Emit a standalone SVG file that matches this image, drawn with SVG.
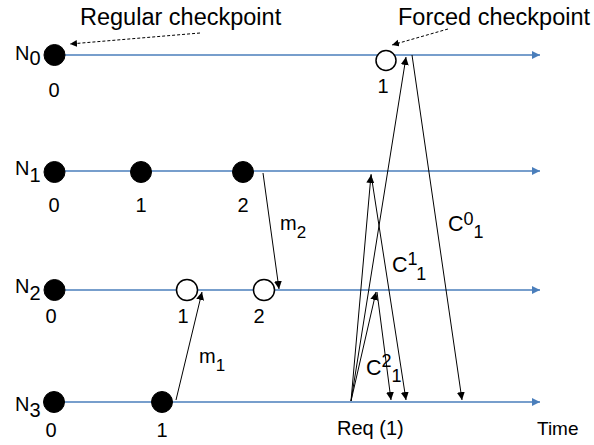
<svg xmlns="http://www.w3.org/2000/svg" width="594" height="445" viewBox="0 0 594 445">
<defs>
<style>
.t{font-family:"Liberation Sans",Arial,sans-serif;font-size:20px;fill:#000}
.h{font-size:23.5px}
.s{font-size:17px}
.c{font-size:21.5px}
.c .s{font-size:18px}
.axis{stroke:#4A7EBB;stroke-width:1.5;fill:none}
.msg{stroke:#000;stroke-width:1;fill:none}
.dash{stroke:#000;stroke-width:1;fill:none;stroke-dasharray:3,2}
.full{fill:#000;stroke:#000;stroke-width:1}
.open{fill:#fff;stroke:#000;stroke-width:1.5}
</style>
<marker id="ab" markerUnits="userSpaceOnUse" markerWidth="9" markerHeight="9" refX="8" refY="4" orient="auto"><path d="M0,0 L8,4 L0,8 z" fill="#000"/></marker>
<marker id="ad" markerUnits="userSpaceOnUse" markerWidth="8" markerHeight="8" refX="7" refY="3.5" orient="auto"><path d="M0,0 L7,3.5 L0,7 z" fill="#000"/></marker>
<marker id="aa" markerUnits="userSpaceOnUse" markerWidth="10" markerHeight="10" refX="8" refY="4" orient="auto"><path d="M0,0 L8,4 L0,8 z" fill="#4A7EBB"/></marker>
</defs>
<g id="axes">
<line class="axis" x1="54" y1="55" x2="540" y2="55" marker-end="url(#aa)"/>
<line class="axis" x1="54" y1="171" x2="540" y2="171" marker-end="url(#aa)"/>
<line class="axis" x1="54" y1="290" x2="540" y2="290" marker-end="url(#aa)"/>
<line class="axis" x1="54" y1="402" x2="540" y2="402" marker-end="url(#aa)"/>
</g>
<g id="connectors">
<line class="msg" x1="263" y1="173" x2="279" y2="289" marker-end="url(#ab)"/>
<line class="msg" x1="176" y1="400" x2="202" y2="292" marker-end="url(#ab)"/>
<line class="msg" x1="351" y1="401" x2="406" y2="57" marker-end="url(#ab)"/>
<line class="msg" x1="351" y1="401" x2="371" y2="175" marker-end="url(#ab)"/>
<line class="msg" x1="351" y1="401" x2="376" y2="292" marker-end="url(#ab)"/>
<line class="msg" x1="412" y1="55" x2="462" y2="400" marker-end="url(#ab)"/>
<line class="msg" x1="371" y1="174" x2="406" y2="400" marker-end="url(#ab)"/>
<line class="msg" x1="377" y1="292" x2="391" y2="400" marker-end="url(#ab)"/>
<line class="dash" x1="200" y1="33" x2="70" y2="44" marker-end="url(#ad)"/>
<line class="dash" x1="448" y1="29" x2="392" y2="45" marker-end="url(#ad)"/>
</g>
<g id="N0">
<circle class="full" cx="54.5" cy="55" r="10.5"/>
<circle class="open" cx="386" cy="60.5" r="10"/>
<text class="t" x="15" y="60">N<tspan dy="5">0</tspan></text>
<text class="t" x="54" y="97" text-anchor="middle">0</text>
<text class="t" x="383" y="93" text-anchor="middle">1</text>
</g>
<g id="N1">
<circle class="full" cx="54.5" cy="172" r="10.5"/>
<circle class="full" cx="141" cy="172" r="10.5"/>
<circle class="full" cx="243" cy="172" r="10.5"/>
<text class="t" x="15" y="175">N<tspan dy="7">1</tspan></text>
<text class="t" x="54" y="212" text-anchor="middle">0</text>
<text class="t" x="141" y="212" text-anchor="middle">1</text>
<text class="t" x="243" y="212" text-anchor="middle">2</text>
</g>
<g id="N2">
<circle class="full" cx="54.5" cy="290" r="10.5"/>
<circle class="open" cx="187" cy="290" r="10.5"/>
<circle class="open" cx="264" cy="290" r="10.5"/>
<text class="t" x="15" y="293">N<tspan dy="7">2</tspan></text>
<text class="t" x="51" y="323" text-anchor="middle">0</text>
<text class="t" x="183" y="323" text-anchor="middle">1</text>
<text class="t" x="259" y="323" text-anchor="middle">2</text>
</g>
<g id="N3">
<circle class="full" cx="54" cy="402" r="10.5"/>
<circle class="full" cx="162" cy="402" r="10.5"/>
<text class="t" x="15" y="411">N<tspan dy="6">3</tspan></text>
<text class="t" x="51" y="437" text-anchor="middle">0</text>
<text class="t" x="162" y="437" text-anchor="middle">1</text>
<text class="t" x="337" y="435">Req (1)</text>
<text class="t" x="537" y="435" style="font-size:19px">Time</text>
</g>
<g id="labels">
<text class="t h" x="80" y="25">Regular checkpoint</text>
<text class="t h" x="398" y="25">Forced checkpoint</text>
<text class="t" x="280" y="230">m<tspan class="s" dy="8">2</tspan></text>
<text class="t" x="199" y="363">m<tspan class="s" dy="8">1</tspan></text>
<text class="t c" x="448" y="231">C<tspan class="s" dy="-6">0</tspan><tspan class="s" dy="13">1</tspan></text>
<text class="t c" x="392" y="272">C<tspan class="s" dy="-7">1</tspan><tspan class="s" dy="15">1</tspan></text>
<text class="t c" x="366" y="375">C<tspan class="s" dy="-8">2</tspan><tspan class="s" dy="15">1</tspan></text>
</g>
</svg>
